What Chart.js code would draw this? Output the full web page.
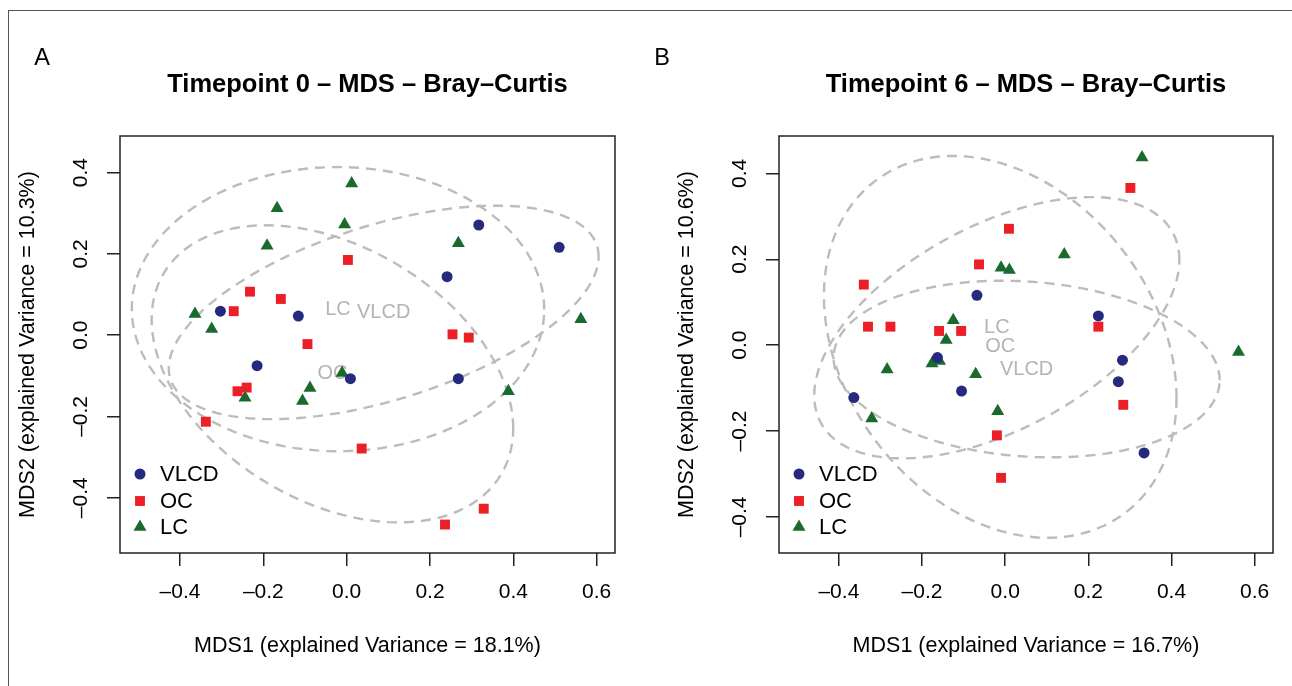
<!DOCTYPE html>
<html>
<head>
<meta charset="utf-8">
<title>MDS - Bray-Curtis</title>
<script src="https://cdn.jsdelivr.net/npm/chart.js@4.4.1/dist/chart.umd.min.js"></script>
<style>
  html, body { margin: 0; padding: 0; background: #ffffff; }
  body { width: 1292px; height: 686px; position: relative; overflow: hidden; }
  .frame { position: absolute; left: 8px; top: 10px; width: 1300px; height: 700px; border: 1.5px solid #555; }
  .panel { position: absolute; top: 0; width: 646px; height: 686px; }
</style>
</head>
<body>
<div class="frame"></div>
<div class="panel" style="left:0"><canvas id="chartA"></canvas></div>
<div class="panel" style="left:646px"><canvas id="chartB"></canvas></div>
<script>
// groups and their look
const groupNames = ['VLCD', 'OC', 'LC'];
const groupColors = ['#262a7f', '#ec1f26', '#1a6a2e'];
const groupShapes = ['circle', 'rect', 'triangle'];
const groupRadius = [5.5, 7, 7.5];

const xTicks = [-0.4, -0.2, 0.0, 0.2, 0.4, 0.6];
const yTicks = [-0.4, -0.2, 0.0, 0.2, 0.4];

// Timepoint 0
const t0VlcdX = [-0.303, -0.116, 0.317, 0.510, 0.241, -0.215, 0.009, 0.268];
const t0VlcdY = [0.059, 0.047, 0.271, 0.216, 0.144, -0.075, -0.107, -0.107];
const t0OcX = [0.003, -0.232, -0.158, -0.271, -0.094, 0.254, 0.293, -0.262, -0.240, -0.338, 0.036, 0.329, 0.236];
const t0OcY = [0.185, 0.107, 0.089, 0.059, -0.022, 0.002, -0.006, -0.138, -0.129, -0.213, -0.279, -0.427, -0.466];
const t0LcX = [0.012, -0.167, -0.005, -0.191, 0.268, -0.364, -0.324, 0.562, -0.011, -0.244, -0.088, -0.106, 0.388];
const t0LcY = [0.373, 0.312, 0.272, 0.220, 0.226, 0.052, 0.015, 0.039, -0.093, -0.154, -0.130, -0.162, -0.138];

// Timepoint 6 (last OC sample sits below the plot region, clipped as in the original)
const t6VlcdX = [-0.068, -0.163, -0.105, -0.364, 0.224, 0.282, 0.272, 0.334];
const t6VlcdY = [0.116, -0.029, -0.107, -0.122, 0.068, -0.035, -0.085, -0.251];
const t6OcX = [0.009, -0.063, -0.340, -0.330, -0.276, -0.159, -0.106, -0.020, -0.010, 0.301, 0.224, 0.284, 0.330];
const t6OcY = [0.271, 0.188, 0.141, 0.043, 0.043, 0.033, 0.033, -0.210, -0.309, 0.366, 0.043, -0.139, -0.555];
const t6LcX = [-0.010, 0.010, -0.125, -0.142, -0.176, -0.158, -0.284, -0.071, -0.321, -0.018, 0.329, 0.142, 0.561];
const t6LcY = [0.180, 0.175, 0.058, 0.012, -0.043, -0.037, -0.057, -0.068, -0.171, -0.154, 0.437, 0.211, -0.016];

const panelLetters = ['A', 'B'];
const panelTitles = ['Timepoint 0 \u2013 MDS \u2013 Bray\u2013Curtis', 'Timepoint 6 \u2013 MDS \u2013 Bray\u2013Curtis'];
const xTitles = ['MDS1 (explained Variance = 18.1%)', 'MDS1 (explained Variance = 16.7%)'];
const yTitles = ['MDS2 (explained Variance = 10.3%)', 'MDS2 (explained Variance = 10.6%)'];

// 80% confidence ellipse: sqrt of chi-square quantile, 2 df
const ellipseScale = Math.sqrt(3.2189);
const FONT = '"Liberation Sans", Arial, Helvetica, sans-serif';

function dash(v) {
  return v.toFixed(1).replace('-', '\u2013');
}

function ellipseOf(xs, ys) {
  const n = xs.length;
  const mx = xs.reduce((a, b) => a + b, 0) / n;
  const my = ys.reduce((a, b) => a + b, 0) / n;
  let sxx = 0, syy = 0, sxy = 0;
  for (let i = 0; i < n; i++) {
    const dx = xs[i] - mx, dy = ys[i] - my;
    sxx += dx * dx; syy += dy * dy; sxy += dx * dy;
  }
  sxx /= n - 1; syy /= n - 1; sxy /= n - 1;
  const a = Math.sqrt(sxx), b = sxy / a, c = Math.sqrt(syy - b * b);
  const pts = [];
  for (let i = 0; i <= 120; i++) {
    const t = i / 120 * 2 * Math.PI;
    pts.push({
      x: mx + ellipseScale * a * Math.cos(t),
      y: my + ellipseScale * (b * Math.cos(t) + c * Math.sin(t))
    });
  }
  return { mx, my, pts };
}

function makePanel(canvasId, idx, xs, ys, pad, yRange) {
  const datasets = groupNames.map((name, i) => ({
    label: name,
    data: xs[i].map((x, j) => ({ x: x, y: ys[i][j] })),
    pointStyle: groupShapes[i],
    pointRadius: groupRadius[i],
    pointHoverRadius: groupRadius[i],
    backgroundColor: groupColors[i],
    borderColor: groupColors[i],
    borderWidth: 0
  }));

  const decor = {
    id: 'decor',
    beforeDatasetsDraw(chart) {
      const { ctx, chartArea: ca, scales: { x, y } } = chart;
      ctx.save();
      ctx.beginPath();
      ctx.rect(ca.left, ca.top, ca.width, ca.height);
      ctx.clip();
      ctx.strokeStyle = '#bcbcbc';
      ctx.lineWidth = 2.4;
      ctx.setLineDash([10, 7]);
      const ells = groupNames.map((g, i) => ellipseOf(xs[i], ys[i]));
      ells.forEach(e => {
        ctx.beginPath();
        e.pts.forEach((pt, j) => {
          const px = x.getPixelForValue(pt.x), py = y.getPixelForValue(pt.y);
          if (j) ctx.lineTo(px, py); else ctx.moveTo(px, py);
        });
        ctx.stroke();
      });
      ctx.setLineDash([]);
      ctx.fillStyle = '#b4b4b4';
      ctx.font = '20px ' + FONT;
      ctx.textAlign = 'center';
      ctx.textBaseline = 'middle';
      ells.forEach((e, i) => {
        ctx.fillText(groupNames[i], x.getPixelForValue(e.mx), y.getPixelForValue(e.my));
      });
      ctx.restore();
    },
    afterDraw(chart) {
      const { ctx, chartArea: ca } = chart;
      ctx.save();
      ctx.strokeStyle = '#222';
      ctx.lineWidth = 1.5;
      ctx.strokeRect(ca.left, ca.top, ca.width, ca.height);

      // legend, bottom left inside the box
      ctx.font = '22px ' + FONT;
      ctx.textAlign = 'left';
      ctx.textBaseline = 'middle';
      const legY = [ca.bottom - 79, ca.bottom - 52, ca.bottom - 26];
      groupNames.forEach((g, i) => {
        ctx.fillStyle = groupColors[i];
        Chart.helpers.drawPoint(ctx, {
          pointStyle: groupShapes[i], radius: groupRadius[i], borderWidth: 0, rotation: 0
        }, ca.left + 20, legY[i]);
        ctx.fillStyle = '#000';
        ctx.fillText(g, ca.left + 40, legY[i] + 1);
      });

      ctx.textAlign = 'center';
      ctx.font = 'bold 25.5px ' + FONT;
      ctx.fillText(panelTitles[idx], (ca.left + ca.right) / 2, 85);
      ctx.font = '23.5px ' + FONT;
      ctx.fillText(panelLetters[idx], pad.letterX, 59);
      ctx.restore();
    }
  };

  new Chart(document.getElementById(canvasId), {
    type: 'scatter',
    data: { datasets: datasets },
    plugins: [decor],
    options: {
      responsive: true,
      maintainAspectRatio: false,
      animation: false,
      layout: { padding: { left: pad.left, right: pad.right, top: 136, bottom: 26 } },
      plugins: { legend: { display: false }, tooltip: { enabled: false } },
      scales: {
        x: {
          type: 'linear',
          min: -0.544,
          max: 0.644,
          afterBuildTicks: s => { s.ticks = xTicks.map(v => ({ value: v })); },
          afterFit: s => { s.height = 107; },
          border: { display: false },
          grid: { drawOnChartArea: false, drawTicks: true, tickLength: 13, color: '#222', lineWidth: 1.5 },
          ticks: {
            color: '#000', font: { family: FONT, size: 21 }, padding: 14,
            maxRotation: 0, autoSkip: false, callback: v => dash(v)
          },
          title: { display: true, text: xTitles[idx], color: '#000', font: { family: FONT, size: 21.5 }, padding: 1 }
        },
        y: {
          type: 'linear',
          min: yRange[0],
          max: yRange[1],
          afterBuildTicks: s => { s.ticks = yTicks.map(v => ({ value: v })); },
          afterFit: s => { s.width = 110; },
          border: { display: false },
          grid: { drawOnChartArea: false, drawTicks: true, tickLength: 13, color: '#222', lineWidth: 1.5 },
          ticks: {
            color: '#000', font: { family: FONT, size: 21 }, padding: 5,
            minRotation: 90, maxRotation: 90, crossAlign: 'center', autoSkip: false,
            callback: v => dash(v)
          },
          title: { display: true, text: yTitles[idx], color: '#000', font: { family: FONT, size: 21.5 }, padding: { top: 5, bottom: 0 } }
        }
      }
    }
  });
}

makePanel('chartA', 0, [t0VlcdX, t0OcX, t0LcX], [t0VlcdY, t0OcY, t0LcY],
  { left: 10, right: 31, letterX: 42 }, [-0.536, 0.49]);
makePanel('chartB', 1, [t6VlcdX, t6OcX, t6LcX], [t6VlcdY, t6OcY, t6LcY],
  { left: 23, right: 19, letterX: 16 }, [-0.484, 0.487]);
</script>
</body>
</html>
